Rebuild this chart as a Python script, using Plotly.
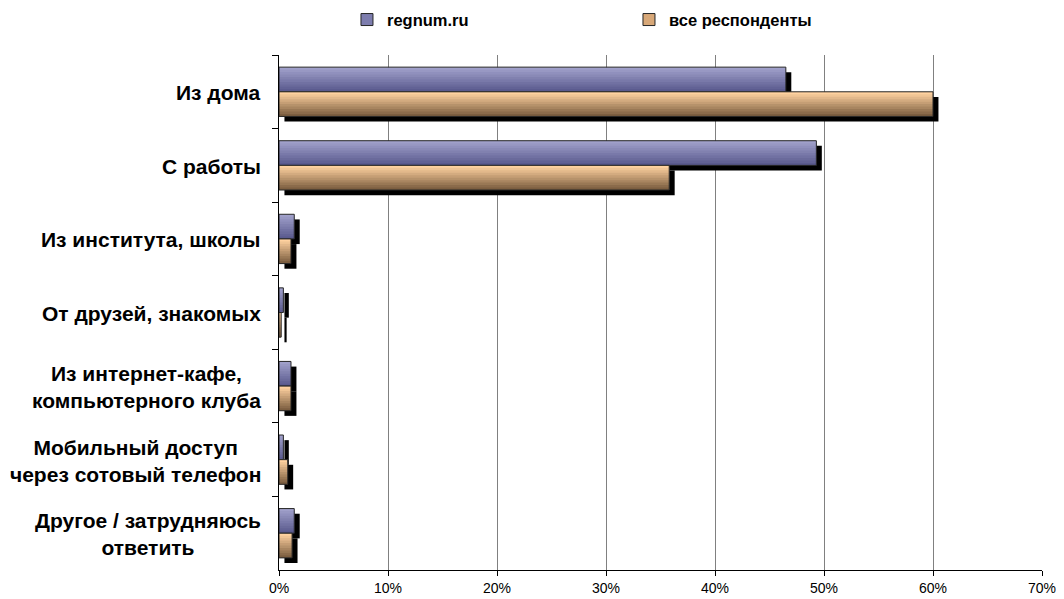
import plotly.graph_objects as go

# ── Datos ───────────────────────────────────────────────────────
CATEGORIES = [
    "Из дома",
    "С работы",
    "Из института, школы",
    "От друзей, знакомых",
    "Из интернет-кафе,<br>компьютерного клуба",
    "Мобильный доступ<br>через сотовый телефон",
    "Другое / затрудняюсь<br>ответить",
]
REGNUM = [46.5, 49.3, 1.4, 0.4, 1.1, 0.4, 1.4]
ALL_RESP = [60.0, 35.8, 1.1, 0.2, 1.1, 0.8, 1.2]
X_TICKS = [0, 10, 20, 30, 40, 50, 60, 70]

# ── Estilo ──────────────────────────────────────────────────────
W = 0.335          # alto de cada barra (unidades de categoría)
N_STRIPS = 10      # franjas para simular el degradado
SHADOW_DX = 0.5    # desplazamiento de la sombra en x (%)
SHADOW_DY = 0.07   # desplazamiento de la sombra en y (categoría)

SERIES = [
    dict(name="regnum.ru", values=REGNUM, offset=-W,
         top=(160, 160, 202), bottom=(90, 90, 142), mid="#7d7dae"),
    dict(name="все респонденты", values=ALL_RESP, offset=0.0,
         top=(255, 210, 160), bottom=(124, 94, 64), mid="#d8a878"),
]


def mix(c1, c2, t):
    r, g, b = (round(a + (b_ - a) * t) for a, b_ in zip(c1, c2))
    return f"rgb({r},{g},{b})"


fig = go.Figure()

for s in SERIES:
    # Sombra
    fig.add_trace(go.Bar(
        y=CATEGORIES, x=s["values"], base=SHADOW_DX, orientation="h",
        offset=s["offset"] + SHADOW_DY, width=W,
        marker=dict(color="black", line_width=0),
        showlegend=False, hoverinfo="skip",
    ))
    # Degradado por franjas (cada una se solapa con la siguiente)
    step = W / N_STRIPS
    for i in range(N_STRIPS):
        t = i / (N_STRIPS - 1)
        fig.add_trace(go.Bar(
            y=CATEGORIES, x=s["values"], orientation="h",
            offset=s["offset"] + i * step,
            width=min(2 * step, W - i * step),
            marker=dict(color=mix(s["top"], s["bottom"], t), line_width=0),
            showlegend=False, hoverinfo="skip",
        ))
    # Contorno
    fig.add_trace(go.Bar(
        y=CATEGORIES, x=s["values"], orientation="h",
        offset=s["offset"], width=W,
        marker=dict(color="rgba(0,0,0,0)", line=dict(color="#262626", width=1)),
        name=s["name"], showlegend=False,
        hovertemplate="<b>%{y}</b><br>%{x}%<extra></extra>",
    ))
    # Entrada de leyenda
    fig.add_trace(go.Bar(
        y=[CATEGORIES[0]], x=[None], orientation="h",
        name=s["name"],
        marker=dict(color=s["mid"], line=dict(color="#262626", width=1)),
        hoverinfo="skip",
    ))

# Etiquetas de categoría centradas (como en Excel)
for cat in CATEGORIES:
    fig.add_annotation(
        x=0, xref="paper", y=cat, yref="y",
        xanchor="right", yanchor="middle", xshift=-16, yshift=-1,
        text=f"<b>{cat}</b>", align="center", showarrow=False,
        font=dict(size=21, family="Liberation Sans, Arial", color="black"),
    )

# la página añade 8 px de margen al cuerpo: la figura mide 1056x591
fig.update_layout(
    barmode="overlay",
    width=1056,
    height=591,
    paper_bgcolor="white",
    plot_bgcolor="white",
    font=dict(family="Liberation Sans, Arial", color="black"),
    margin=dict(l=271, r=22, t=47, b=29, autoexpand=False),
    legend=dict(
        orientation="h",
        xref="container", yref="container",
        x=0.321, y=0.980, xanchor="left", yanchor="middle",
        entrywidth=237, entrywidthmode="pixels",
        font=dict(size=16.5, family="Liberation Sans, Arial", weight="bold"),
        itemclick=False,
    ),
    xaxis=dict(
        range=[0, 70],
        tickvals=X_TICKS,
        ticktext=[f"{v}%" for v in X_TICKS],
        tickfont=dict(size=14),
        showgrid=True, gridcolor="#808080", gridwidth=1,
        showline=True, linecolor="black", linewidth=1,
        ticks="outside", ticklen=5, tickcolor="black",
        zeroline=False, fixedrange=True, automargin=False,
    ),
    yaxis=dict(
        autorange="reversed",
        tickson="boundaries",
        ticks="outside", ticklen=6, tickcolor="black",
        showticklabels=False,
        showline=True, linecolor="black", linewidth=1,
        showgrid=False, fixedrange=True, automargin=False,
    ),
)

fig.write_html("out.html")
